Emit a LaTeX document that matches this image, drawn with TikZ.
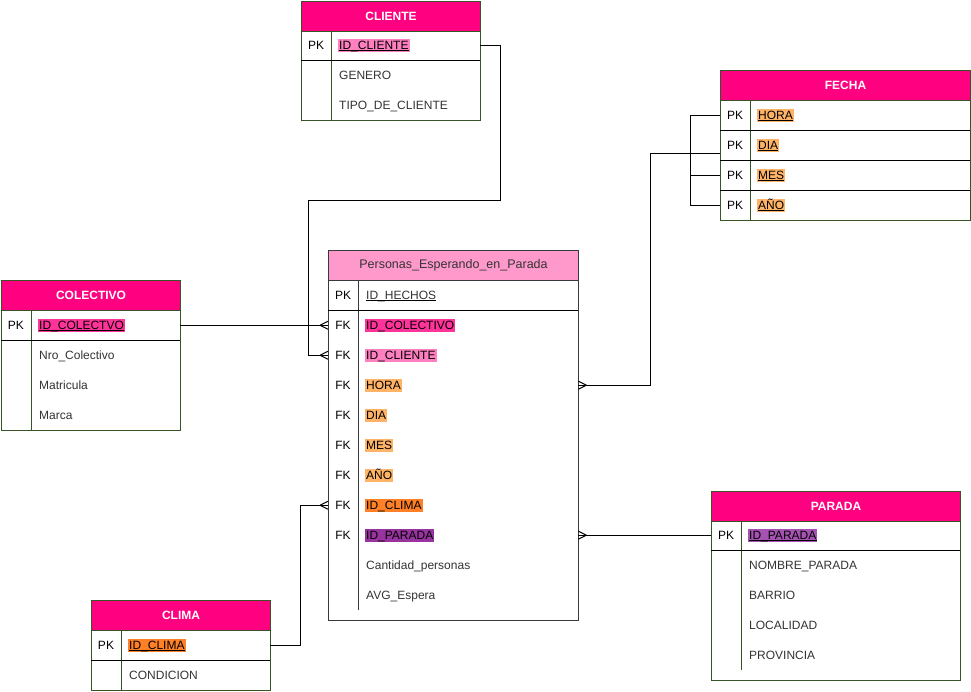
\documentclass[tikz,border=0pt]{standalone}
\usepackage{fontspec}
\setmainfont{Liberation Sans}
\definecolor{hot}{HTML}{FF0080}
\definecolor{factpink}{HTML}{FF99CC}
\definecolor{tabgreen}{RGB}{54,84,38}
\definecolor{factline}{RGB}{54,57,61}
\definecolor{txt}{HTML}{333333}
\definecolor{hlpinkL}{HTML}{FF80C0}
\definecolor{hlpink}{HTML}{FF3399}
\definecolor{hlorangeL}{HTML}{FFB366}
\definecolor{hlorange}{HTML}{FF8026}
\definecolor{hlpurple}{HTML}{99339F}
\definecolor{hlpurpleL}{HTML}{A652B2}

\tikzset{
  tabline/.style={draw=tabgreen, line width=1pt},
  factframe/.style={draw=factline, line width=1pt},
  sepline/.style={draw=black, line width=1pt},
  hdr/.style={draw=tabgreen, line width=1pt, fill=hot, text=white,
    font=\fontsize{12}{14}\selectfont\bfseries, minimum height=30,
    inner sep=0, anchor=north west},
  facthdr/.style={hdr, fill=factpink, draw=factline, text=txt,
    font=\fontsize{12.5}{14}\selectfont},
  rowbox/.style={minimum height=30, inner sep=0, anchor=north west},
  kcol/.style={text=black, inner sep=0, anchor=center},
  field/.style={anchor=west, inner xsep=1pt, inner ysep=0.6pt,
    text height=9.3, text depth=2.8, text=txt},
  hl/.style={fill=#1, text=black},
  conn/.style={draw=black, line width=1pt},
}

% one table row: name, top-left corner, width, key column, field style, field text
\newcommand\erow[6]{%
  \node[rowbox, minimum width=#3] (#1) at (#2) {};
  \node[kcol] at ([xshift=15,yshift=-0.6]#1.west) {#4};
  \node[field,#5] (#1t) at ([xshift=37,yshift=-0.6]#1.west) {#6};}
% underline of a key field
\newcommand\keyline[1]{\draw[line width=0.9pt] ([xshift=1,yshift=-1.8]#1t.base west) -- ([xshift=-1,yshift=-1.8]#1t.base east);}
% crow's foot ends
\newcommand\crowW[1]{\draw[conn] ([xshift=-8]#1.west) -- ([yshift=4]#1.west) ([xshift=-8]#1.west) -- ([yshift=-4]#1.west);}
\newcommand\crowE[1]{\draw[conn] ([xshift=8]#1.east) -- ([yshift=4]#1.east) ([xshift=8]#1.east) -- ([yshift=-4]#1.east);}

\begin{document}
\begin{tikzpicture}[x=1pt,y=-1pt,font=\fontsize{12}{14}\selectfont]
\useasboundingbox (0,0) rectangle (971,691);

% ---------------- CLIENTE ----------------
\erow{cli1}{301,30}{179}{PK}{hl=hlpinkL}{ID\_CLIENTE}
\erow{cli2}{301,60}{179}{}{}{GENERO}
\erow{cli3}{301,90}{179}{}{}{TIPO\_DE\_CLIENTE}
\keyline{cli1}
\draw[tabline] (301,30) rectangle (480,120);
\draw[tabline] (331,30) -- (331,120);
\draw[sepline] (301,60) -- (480,60);
\node[hdr, minimum width=179] (cliH) at (301,1) {CLIENTE};

% ---------------- FECHA ----------------
\erow{fe1}{720,100}{250}{PK}{hl=hlorangeL}{HORA}
\erow{fe2}{720,130}{250}{PK}{hl=hlorangeL}{DIA}
\erow{fe3}{720,160}{250}{PK}{hl=hlorangeL}{MES}
\erow{fe4}{720,190}{250}{PK}{hl=hlorangeL}{AÑO}
\keyline{fe1}\keyline{fe2}\keyline{fe3}\keyline{fe4}
\draw[tabline] (720,100) rectangle (970,220);
\draw[tabline] (750,100) -- (750,220);
\draw[sepline] (720,130) -- (970,130) (720,160) -- (970,160) (720,190) -- (970,190);
\node[hdr, minimum width=250] (feH) at (720,70) {FECHA};

% ---------------- COLECTIVO ----------------
\erow{co1}{1,310}{179}{PK}{hl=hlpink}{ID\_COLECTVO}
\erow{co2}{1,340}{179}{}{}{Nro\_Colectivo}
\erow{co3}{1,370}{179}{}{}{Matricula}
\erow{co4}{1,400}{179}{}{}{Marca}
\keyline{co1}
\draw[tabline] (1,310) rectangle (180,430);
\draw[tabline] (31,310) -- (31,430);
\draw[sepline] (1,340) -- (180,340);
\node[hdr, minimum width=179] (coH) at (1,280) {COLECTIVO};

% ---------------- Personas_Esperando_en_Parada ----------------
\erow{fa0}{328,280}{250}{PK}{}{ID\_HECHOS}
\erow{fa1}{328,310}{250}{FK}{hl=hlpink}{ID\_COLECTIVO}
\erow{fa2}{328,340}{250}{FK}{hl=hlpinkL}{ID\_CLIENTE}
\erow{fa3}{328,370}{250}{FK}{hl=hlorangeL}{HORA}
\erow{fa4}{328,400}{250}{FK}{hl=hlorangeL}{DIA}
\erow{fa5}{328,430}{250}{FK}{hl=hlorangeL}{MES}
\erow{fa6}{328,460}{250}{FK}{hl=hlorangeL}{AÑO}
\erow{fa7}{328,490}{250}{FK}{hl=hlorange}{ID\_CLIMA}
\erow{fa8}{328,520}{250}{FK}{hl=hlpurple}{ID\_PARADA}
\erow{fa9}{328,550}{250}{}{}{Cantidad\_personas}
\erow{fa10}{328,580}{250}{}{}{AVG\_Espera}
\keyline{fa0}
\draw[factframe] (328,280) rectangle (578,620);
\draw[factframe] (358,280) -- (358,610);
\draw[sepline] (328,310) -- (578,310);
\node[facthdr, minimum width=250] (faH) at (328,250) {Personas\_Esperando\_en\_Parada};

% ---------------- PARADA ----------------
\erow{pa1}{711,520}{249}{PK}{hl=hlpurpleL}{ID\_PARADA}
\erow{pa2}{711,550}{249}{}{}{NOMBRE\_PARADA}
\erow{pa3}{711,580}{249}{}{}{BARRIO}
\erow{pa4}{711,610}{249}{}{}{LOCALIDAD}
\erow{pa5}{711,640}{249}{}{}{PROVINCIA}
\keyline{pa1}
\draw[tabline] (711,520) rectangle (960,680);
\draw[tabline] (741,520) -- (741,670);
\draw[sepline] (711,550) -- (960,550);
\node[hdr, minimum width=249] (paH) at (711,491) {PARADA};

% ---------------- CLIMA ----------------
\erow{cl1}{91,630}{179}{PK}{hl=hlorange}{ID\_CLIMA}
\erow{cl2}{91,660}{179}{}{}{CONDICION}
\keyline{cl1}
\draw[tabline] (91,630) rectangle (270,690);
\draw[tabline] (121,630) -- (121,690);
\draw[sepline] (91,660) -- (270,660);
\node[hdr, minimum width=179] (clH) at (91,600) {CLIMA};

% ---------------- relationships ----------------
\coordinate (cliTurn) at (500,200);
\coordinate (feTurn) at (650,153);

\draw[conn] (co1.east) -- (fa1.west);
\crowW{fa1}

\draw[conn] (cli1.east) -| (cliTurn) -| ([xshift=-20]fa2.west) -- (fa2.west);
\crowW{fa2}

\draw[conn] (fa3.east) -| (feTurn) -- (fe2.west |- feTurn);
\draw[conn] (fe1.west) -- ++(-30,0) |- (fe4.west);
\draw[conn] (fe3.west) -- ++(-30,0);
\crowE{fa3}

\draw[conn] (cl1.east) -- ++(30,0) |- (fa7.west);
\crowW{fa7}

\draw[conn] (pa1.west) -- (fa8.east);
\crowE{fa8}
\end{tikzpicture}
\end{document}
